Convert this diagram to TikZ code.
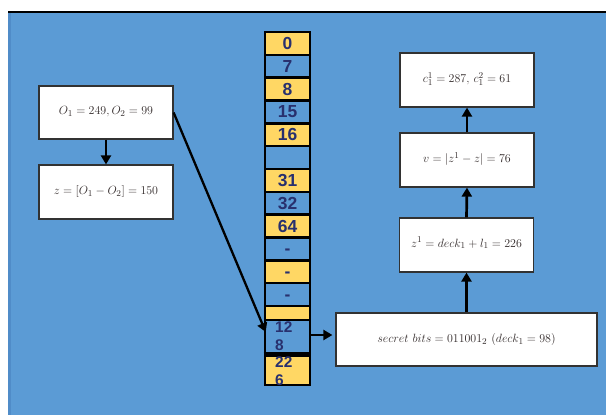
\documentclass[tikz,border=0pt]{standalone}
\usepackage{fontspec}
\newfontfamily\cellfont{Liberation Sans}
\usetikzlibrary{arrows.meta,calc}
\definecolor{bg}{RGB}{91,155,213}
\definecolor{bgdark}{RGB}{80,140,200}
\definecolor{yel}{RGB}{255,215,100}
\definecolor{navy}{RGB}{40,48,110}
\definecolor{txt}{RGB}{50,42,42}
\definecolor{boxline}{RGB}{50,50,50}
\tikzset{
  cellbox/.style={draw=black, line width=2.6bp, minimum width=45bp, inner sep=0pt,
    text height=12bp, text depth=0bp, text=navy, font=\cellfont\bfseries\fontsize{17.5}{17.5}\selectfont},
  celltxt/.style={inner sep=0pt, align=left, text=navy, font=\cellfont\bfseries\fontsize{15.5}{18}\selectfont},
  box/.style={draw=boxline, line width=1.2bp, fill=white, minimum width=134bp, minimum height=53bp,
    inner sep=0pt, text=txt, font=\fontsize{12.5}{15}\selectfont},
  arr/.style={line width=2.7bp, -{Triangle[length=9bp,width=10bp]}}
}
\begin{document}
\begin{tikzpicture}[x=1bp,y=-1bp]
\useasboundingbox (0,0) rectangle (606,415);
\fill[bg] (8,13) rectangle (606,415);
\fill[bgdark] (8,13) rectangle (11,415);
\draw[line width=2bp] (8,12) -- (606,12);
% column cells
\foreach \i/\t/\c in {1/0/yel,2/7/bg,3/8/yel,4/15/bg,5/16/yel,6/{}/bg,7/31/yel,8/32/bg,9/64/yel,10/-/bg,11/-/yel,12/-/bg} {
  \node[cellbox, fill=\c, minimum height=22.83bp] (c\i) at (287.5,{32+(\i-0.5)*22.83}) {\t};
}
\node[cellbox, fill=yel, minimum height=14bp] (c13) at (287.5,313) {};
\node[cellbox, fill=bg, minimum height=33bp] (c14) at (287.5,336.5) {};
\node[cellbox, fill=yel, minimum height=32bp] (c15) at (287.5,369) {};
\draw[line width=5bp] (c14.south west) -- (c14.south east);
\node[celltxt, anchor=north west] (t14) at (275,322) {12\\8};
\node[celltxt, anchor=north west] (t15) at (275,356.5) {22\\6};
% boxes
\node[box] (O) at (106,112.5) {\raisebox{3.5bp}{$O_1 = 249, O_2 = 99$}};
\node[box, minimum height=54bp] (z) at (106,192) {$z = [O_1 - O_2] = 150$};
\node[box, minimum height=54bp] (c) at (467,80) {\raisebox{5bp}{$c_1^{1} = 287,\, c_1^{2} = 61$}};
\node[box, minimum height=54bp] (v) at (467,160) {\raisebox{5bp}{$v = |z^1 - z| = 76$}};
\node[box, minimum height=54bp] (z1) at (466.5,245) {\raisebox{6bp}{$z^1 = deck_1 + l_1 = 226$}};
\node[box, minimum width=261bp] (s) at (466.5,339.5) {\raisebox{3.5bp}{$secret\ bits = 011001_2\ (deck_1 = 98)$}};
% arrows
\coordinate (hit) at ($(c14.west)+(2,-4.5)$);
\draw[arr] (O.south) -- (z.north);
\draw[arr, line width=2.3bp] (O.east) -- (hit);
\draw[arr] ($(c14.east)+(0,-1.5)$) -- ($(c14.east -| s.west)+(-3,-1.5)$);
\draw[arr] (s.north) -- (z1.south);
\draw[arr] (z1.north) -- (v.south);
\draw[arr] (v.north) -- (c.south);
\end{tikzpicture}
\end{document}
